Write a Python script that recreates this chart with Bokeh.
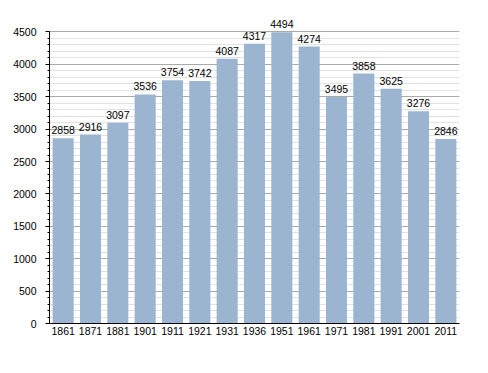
from bokeh.plotting import figure
from bokeh.models import ColumnDataSource, FactorRange, Range1d, SingleIntervalTicker
from bokeh.embed import file_html
from bokeh.resources import INLINE
from bokeh.core.properties import value

years = ["1861", "1871", "1881", "1901", "1911", "1921", "1931", "1936",
         "1951", "1961", "1971", "1981", "1991", "2001", "2011"]
population = [2858, 2916, 3097, 3536, 3754, 3742, 4087, 4317,
              4494, 4274, 3495, 3858, 3625, 3276, 2846]
labels = [str(v) for v in population]

src = ColumnDataSource(dict(x=years, top=population, label=labels))

p = figure(x_range=FactorRange(*years, range_padding=0),
           y_range=Range1d(0, 4800),
           width=480, height=363, output_backend="svg", toolbar_location=None,
           min_border_left=49, min_border_right=21, min_border_top=12, min_border_bottom=40)
p.outline_line_color = None
p.background_fill_color = "white"

p.vbar(x="x", top="top", width=0.77, source=src, fill_color="#9bb4d0", line_color=None)
p.text(x="x", y="top", text="label", source=src, text_align="center",
       text_baseline="bottom", y_offset=-4, text_font=value("Liberation Sans"),
       text_font_size="10.5px", text_color="black")

p.xgrid.grid_line_color = None
p.yaxis.bounds = (0, 4500)
p.yaxis.ticker = SingleIntervalTicker(interval=500, num_minor_ticks=5)
p.ygrid.ticker = p.yaxis.ticker
p.ygrid.grid_line_color = "#aaaaaa"
p.ygrid.minor_grid_line_color = "#e2e2e2"
p.yaxis.major_tick_in = 0
p.yaxis.major_tick_out = 4
p.yaxis.minor_tick_in = 0
p.yaxis.minor_tick_out = 2
p.yaxis.major_label_standoff = 9
p.yaxis.axis_line_color = "black"
p.yaxis.major_label_text_font = "Liberation Sans"
p.yaxis.major_label_text_font_size = "10.5px"
p.yaxis.major_label_text_color = "black"

p.xaxis.major_tick_line_color = None
p.xaxis.minor_tick_line_color = None
p.xaxis.major_tick_in = 0
p.xaxis.major_tick_out = 0
p.xaxis.major_label_standoff = 3
p.xaxis.axis_line_color = "black"
p.xaxis.major_label_text_font = "Liberation Sans"
p.xaxis.major_label_text_font_size = "10.5px"
p.xaxis.major_label_text_color = "black"

open("out.html", "w").write(file_html(p, INLINE))
